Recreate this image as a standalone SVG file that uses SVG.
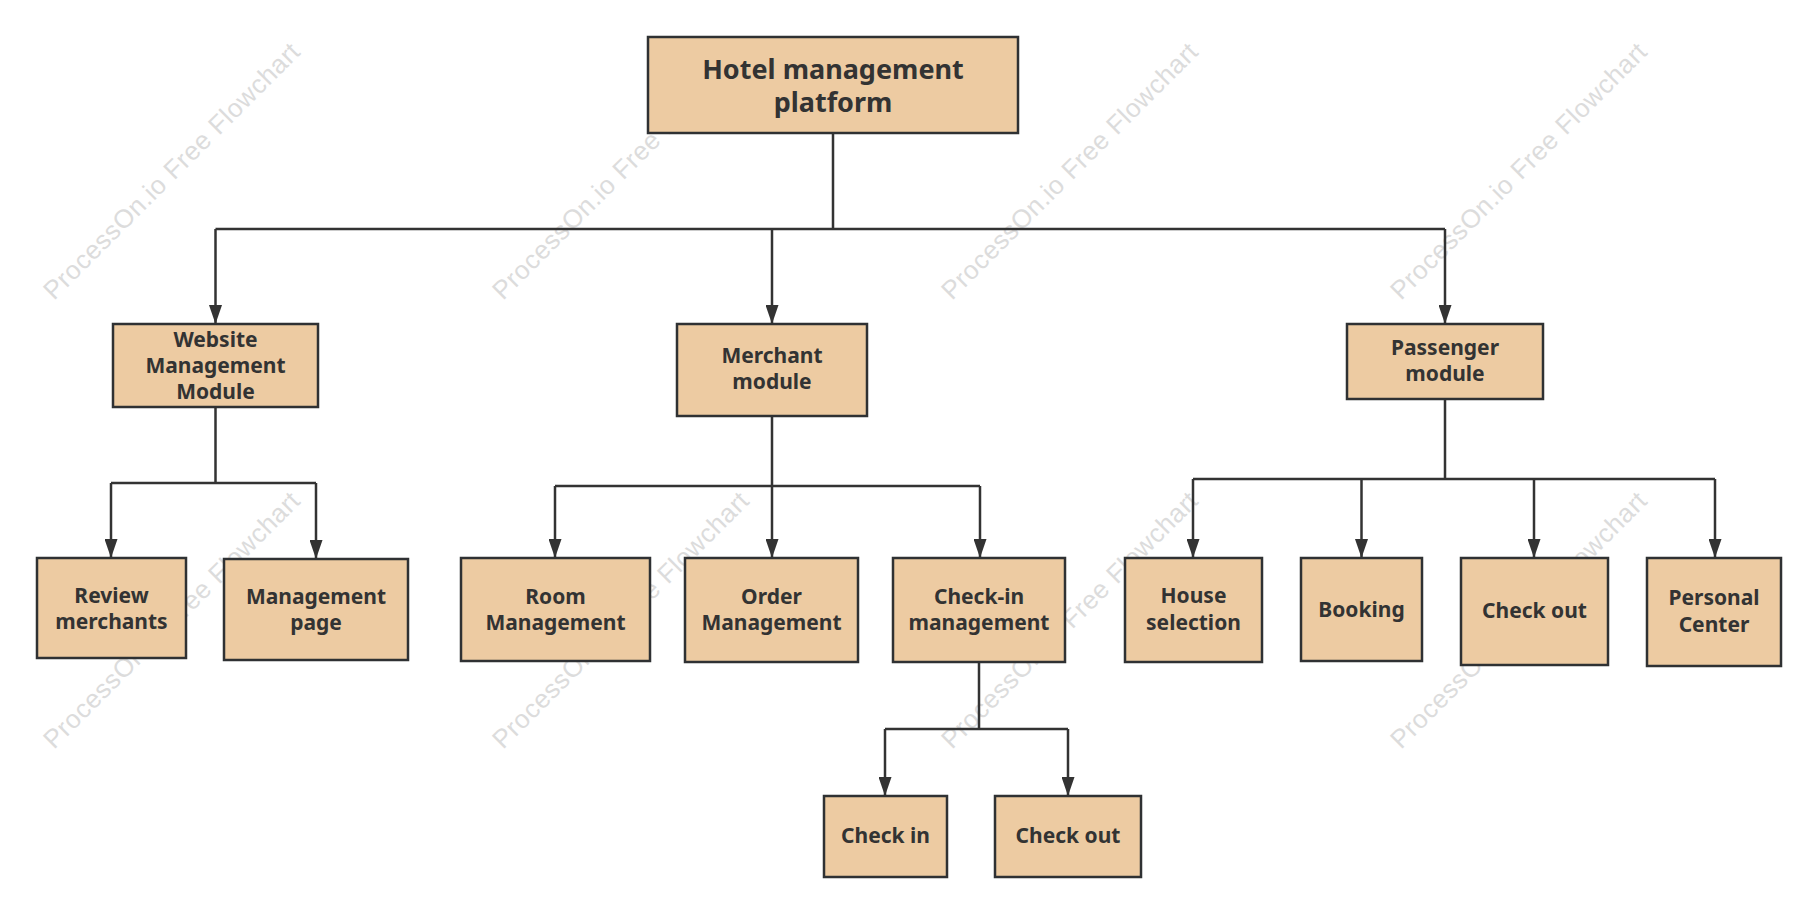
<svg xmlns="http://www.w3.org/2000/svg" width="1817" height="913" viewBox="0 0 1817 913">
<defs>
<style>
.wm{font-family:"Liberation Sans",Arial,sans-serif;font-size:26px;fill:#dcdcdc;}
.box{fill:#EDCBA2;stroke:#2f3133;stroke-width:2.5;}
.t{font-family:"Noto Sans","Open Sans",sans-serif;font-weight:bold;font-size:21px;fill:#333333;text-anchor:middle;}
.tr{font-size:27px;}
.c{fill:none;stroke:#333333;stroke-width:2.5;}
.a{marker-end:url(#arr);}
</style>
<marker id="arr" markerUnits="userSpaceOnUse" viewBox="0 0 19 13" refX="19" refY="6.5" markerWidth="19" markerHeight="13" orient="auto">
<path d="M0,0 L19,6.5 L0,13 z" fill="#333333"/>
</marker>
</defs>
<rect width="1817" height="913" fill="#ffffff"/>
<g id="watermarks">
<text class="wm" transform="translate(54,301) rotate(-45)" textLength="350">ProcessOn.io Free Flowchart</text>
<text class="wm" transform="translate(503,301) rotate(-45)" textLength="350">ProcessOn.io Free Flowchart</text>
<text class="wm" transform="translate(952,301) rotate(-45)" textLength="350">ProcessOn.io Free Flowchart</text>
<text class="wm" transform="translate(1401,301) rotate(-45)" textLength="350">ProcessOn.io Free Flowchart</text>
<text class="wm" transform="translate(54,750) rotate(-45)" textLength="350">ProcessOn.io Free Flowchart</text>
<text class="wm" transform="translate(503,750) rotate(-45)" textLength="350">ProcessOn.io Free Flowchart</text>
<text class="wm" transform="translate(952,750) rotate(-45)" textLength="350">ProcessOn.io Free Flowchart</text>
<text class="wm" transform="translate(1401,750) rotate(-45)" textLength="350">ProcessOn.io Free Flowchart</text>
</g>
<g id="connectors">
<path class="c" d="M833,133 V229 M215.5,229 H1445"/>
<path class="c a" d="M215.5,229 V324"/>
<path class="c a" d="M772,229 V324"/>
<path class="c a" d="M1445,229 V324"/>
<path class="c" d="M215.5,407 V483 M111,483 H316"/>
<path class="c a" d="M111,483 V558"/>
<path class="c a" d="M316,483 V559"/>
<path class="c" d="M772,416 V486 M555,486 H980"/>
<path class="c a" d="M555,486 V558"/>
<path class="c a" d="M772,486 V558"/>
<path class="c a" d="M980,486 V558"/>
<path class="c" d="M1445,399 V479 M1193,479 H1715"/>
<path class="c a" d="M1193,479 V558"/>
<path class="c a" d="M1361.5,479 V558"/>
<path class="c a" d="M1534,479 V558"/>
<path class="c a" d="M1715,479 V558"/>
<path class="c" d="M979,662 V729 M885,729 H1068"/>
<path class="c a" d="M885,729 V796"/>
<path class="c a" d="M1068,729 V796"/>
</g>
<g id="root">
<rect class="box" x="648" y="37" width="370" height="96"/>
<text class="t tr" x="833" y="79">Hotel management<tspan x="833" y="112">platform</tspan></text>
</g>
<g id="website">
<rect class="box" x="113" y="324" width="205" height="83"/>
<text class="t" x="215.5" y="347">Website<tspan x="215.5" y="373">Management</tspan><tspan x="215.5" y="399">Module</tspan></text>
</g>
<g id="merchant">
<rect class="box" x="677" y="324" width="190" height="92"/>
<text class="t" x="772" y="363">Merchant<tspan x="772" y="389">module</tspan></text>
</g>
<g id="passenger">
<rect class="box" x="1347" y="324" width="196" height="75"/>
<text class="t" x="1445" y="355">Passenger<tspan x="1445" y="381">module</tspan></text>
</g>
<g id="review">
<rect class="box" x="37" y="558" width="149" height="100"/>
<text class="t" x="111.5" y="603">Review<tspan x="111.5" y="629">merchants</tspan></text>
</g>
<g id="mgmtpage">
<rect class="box" x="224" y="559" width="184" height="101"/>
<text class="t" x="316" y="604">Management<tspan x="316" y="630">page</tspan></text>
</g>
<g id="room">
<rect class="box" x="461" y="558" width="189" height="103"/>
<text class="t" x="555.5" y="604">Room<tspan x="555.5" y="630">Management</tspan></text>
</g>
<g id="order">
<rect class="box" x="685" y="558" width="173" height="104"/>
<text class="t" x="771.5" y="604">Order<tspan x="771.5" y="630">Management</tspan></text>
</g>
<g id="checkinmgmt">
<rect class="box" x="893" y="558" width="172" height="104"/>
<text class="t" x="979" y="604">Check-in<tspan x="979" y="630">management</tspan></text>
</g>
<g id="house">
<rect class="box" x="1125" y="558" width="137" height="104"/>
<text class="t" x="1193.5" y="603">House<tspan x="1193.5" y="630">selection</tspan></text>
</g>
<g id="booking">
<rect class="box" x="1301" y="558" width="121" height="103"/>
<text class="t" x="1361.5" y="617">Booking</text>
</g>
<g id="checkout">
<rect class="box" x="1461" y="558" width="147" height="107"/>
<text class="t" x="1534.5" y="618">Check out</text>
</g>
<g id="personal">
<rect class="box" x="1647" y="558" width="134" height="108"/>
<text class="t" x="1714" y="605">Personal<tspan x="1714" y="632">Center</tspan></text>
</g>
<g id="checkin">
<rect class="box" x="824" y="796" width="123" height="81"/>
<text class="t" x="885.5" y="843">Check in</text>
</g>
<g id="checkout2">
<rect class="box" x="995" y="796" width="146" height="81"/>
<text class="t" x="1068" y="843">Check out</text>
</g>
</svg>
